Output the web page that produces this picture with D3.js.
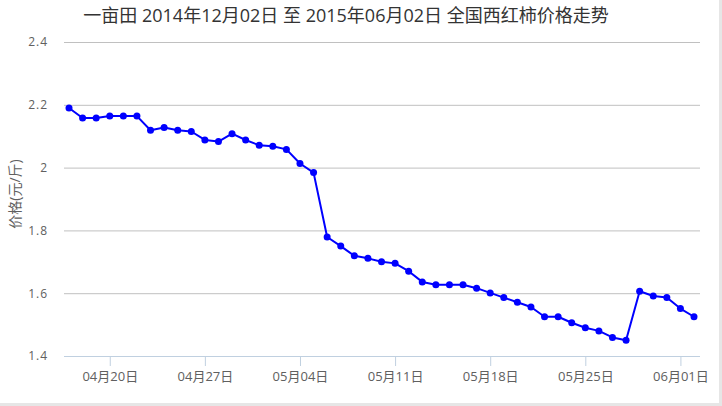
<!DOCTYPE html>
<html><head><meta charset="utf-8">
<script src="https://cdn.jsdelivr.net/npm/d3@7"></script>
<style>
html,body{margin:0;padding:0;background:#fff;}
svg{display:block;}
text{font-family:"Open Sans","Noto Sans CJK SC",sans-serif;}
</style></head>
<body><div id="chart"></div>
<script>
const titleText = "一亩田 2014年12月02日 至 2015年06月02日 全国西红柿价格走势";
const yAxisTitle = "价格(元/斤)";
const dates = [
 "2015-04-17","2015-04-18","2015-04-19","2015-04-20","2015-04-21","2015-04-22","2015-04-23","2015-04-24","2015-04-25","2015-04-26",
 "2015-04-27","2015-04-28","2015-04-29","2015-04-30","2015-05-01","2015-05-02","2015-05-03","2015-05-04","2015-05-05","2015-05-06",
 "2015-05-07","2015-05-08","2015-05-09","2015-05-10","2015-05-11","2015-05-12","2015-05-13","2015-05-14","2015-05-15","2015-05-16",
 "2015-05-17","2015-05-18","2015-05-19","2015-05-20","2015-05-21","2015-05-22","2015-05-23","2015-05-24","2015-05-25","2015-05-26",
 "2015-05-27","2015-05-28","2015-05-29","2015-05-30","2015-05-31","2015-06-01","2015-06-02"];
const prices = [
 2.19,2.158,2.158,2.164,2.164,2.164,2.119,2.128,2.119,2.115,
 2.088,2.083,2.108,2.088,2.071,2.068,2.058,2.013,1.984,1.779,
 1.750,1.719,1.711,1.700,1.695,1.670,1.636,1.627,1.627,1.627,
 1.616,1.601,1.586,1.571,1.556,1.525,1.525,1.506,1.490,1.480,
 1.459,1.450,1.606,1.591,1.586,1.551,1.525];
const yTicks = [1.4,1.6,1.8,2.0,2.2,2.4];
const xTickDates = ["2015-04-20","2015-04-27","2015-05-04","2015-05-11","2015-05-18","2015-05-25","2015-06-01"];

const W = 722, H = 406;
const plotLeft = 64, plotRight = 700, plotTop = 42, plotBottom = 356;
const parse = d3.timeParse("%Y-%m-%d");
const data = dates.map((d,i)=>({date: parse(d), v: prices[i]}));

const svg = d3.select("#chart").append("svg").attr("width",W).attr("height",H);

const x = d3.scaleTime()
  .domain([parse(dates[0]), parse(dates[dates.length-1])])
  .range([69, 694]);
const y = d3.scaleLinear().domain([1.4,2.4]).range([plotBottom, plotTop]);

// page border lines
svg.append("line").attr("x1",0).attr("x2",W).attr("y1",H-1.5).attr("y2",H-1.5)
  .attr("stroke","#e6e6e6").attr("stroke-width",3);
svg.append("line").attr("x1",W-1.5).attr("x2",W-1.5).attr("y1",0).attr("y2",H)
  .attr("stroke","#e6e6e6").attr("stroke-width",3);

// title
svg.append("text").attr("x",346).attr("y",22).attr("text-anchor","middle")
  .attr("font-size",18).attr("fill","#333").text(titleText);

// y grid + labels
const yAxis = d3.axisLeft(y).tickValues(yTicks).tickSize(-(plotRight-plotLeft)).tickPadding(16)
  .tickFormat(d => d3.format("")(+d.toFixed(1)));
const gy = svg.append("g").attr("transform",`translate(${plotLeft},0)`).call(yAxis);
gy.select(".domain").remove();
gy.selectAll(".tick line").attr("stroke","#c0c0c0").attr("stroke-width",1);
gy.selectAll(".tick text").attr("fill","#606060").attr("font-size",12)
  .attr("letter-spacing","1px").attr("font-family","'Open Sans','Noto Sans CJK SC',sans-serif");

// y axis title
svg.append("text").attr("transform",`translate(20,194) rotate(-90)`)
  .attr("text-anchor","middle").attr("font-size",14).attr("fill","#606060")
  .text(yAxisTitle);

// x axis
const xAxis = d3.axisBottom(x).tickValues(xTickDates.map(parse)).tickSize(10).tickPadding(6)
  .tickFormat(d3.timeFormat("%m月%d日"));
const gx = svg.append("g").attr("transform",`translate(0,${plotBottom})`).call(xAxis);
gx.select(".domain").remove();
gx.append("line").attr("x1",plotLeft).attr("x2",plotRight).attr("y1",0.5).attr("y2",0.5)
  .attr("stroke","#c0d0e0").attr("stroke-width",1);
gx.selectAll(".tick line").attr("stroke","#c0d0e0");
gx.selectAll(".tick text").attr("fill","#606060").attr("font-size",13)
  .attr("font-family","'Open Sans','Noto Sans CJK SC',sans-serif");

// line
const line = d3.line().x(d=>x(d.date)).y(d=>y(d.v));
svg.append("path").datum(data).attr("d",line).attr("fill","none")
  .attr("stroke","#0000ff").attr("stroke-width",2).attr("stroke-linejoin","round");
svg.selectAll("circle.pt").data(data).enter().append("circle").attr("class","pt")
  .attr("cx",d=>x(d.date)).attr("cy",d=>y(d.v)).attr("r",3.5).attr("fill","#0000ff");
</script></body></html>
